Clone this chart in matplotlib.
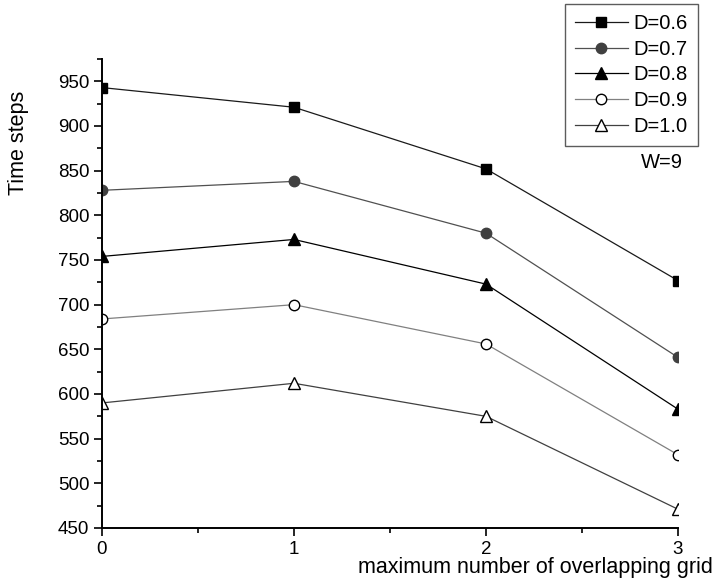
import matplotlib
matplotlib.use("Agg")
import matplotlib.pyplot as plt
from matplotlib.ticker import MultipleLocator

plt.rcParams['font.family'] = ['Liberation Sans', 'DejaVu Sans']

x_vals = [0, 1, 2, 3]
labels = ["D=0.6", "D=0.7", "D=0.8", "D=0.9", "D=1.0"]
d06 = [943, 921, 852, 727]
d07 = [828, 838, 780, 641]
d08 = [754, 773, 723, 583]
d09 = [684, 700, 656, 532]
d10 = [590, 612, 575, 471]
series = [d06, d07, d08, d09, d10]

markers = ['s', 'o', '^', 'o', '^']
line_colors = ['#1a1a1a', '#505050', '#000000', '#808080', '#404040']
face_colors = ['#000000', '#404040', '#000000', 'white', 'white']
edge_colors = ['#000000', '#404040', '#000000', '#000000', '#000000']
msizes = [7, 7.5, 8.5, 7.5, 8.5]

fig = plt.figure(figsize=(7.15, 5.88), dpi=100)
ax = fig.add_axes([102/715, 1-528/588, (678-102)/715, (528-59)/588])

handles = []
for s, lab, m, lc, fc, ec, ms in zip(series, labels, markers, line_colors, face_colors, edge_colors, msizes):
    h, = ax.plot(x_vals, s, marker=m, color=lc, markerfacecolor=fc,
                 markeredgecolor=ec, markersize=ms, linewidth=0.9,
                 markeredgewidth=1.0, label=lab)
    handles.append(h)

ax.set_xlim(0, 3)
ax.set_ylim(450, 975)
ax.xaxis.set_major_locator(MultipleLocator(1))
ax.xaxis.set_minor_locator(MultipleLocator(0.5))
ax.yaxis.set_minor_locator(MultipleLocator(25))
ax.set_yticks([450, 500, 550, 600, 650, 700, 750, 800, 850, 900, 950])

for side in ['top', 'right']:
    ax.spines[side].set_visible(False)
for side in ['left', 'bottom']:
    ax.spines[side].set_linewidth(1.4)

ax.tick_params(which='major', direction='out', length=6, width=1.2, labelsize=13.5, pad=3)
ax.tick_params(which='minor', direction='out', length=3.5, width=1.2)

fig.text(713/715, 1-567/588, "maximum number of overlapping grid", ha='right', va='center', fontsize=15.5)
fig.text(19/715, 1-143/588, "Time steps", ha='center', va='center', rotation=90, fontsize=15.5)
fig.text(662/715, 1-162/588, "W=9", ha='center', va='center', fontsize=14.5)

leg = fig.legend(handles=handles, loc='upper right', bbox_to_anchor=(698/715, 1-4/588),
                 bbox_transform=fig.transFigure, fontsize=14.5, frameon=True,
                 fancybox=False, handlelength=2.6, handletextpad=0.3,
                 labelspacing=0.33, borderpad=0.5, borderaxespad=0)
leg.get_frame().set_edgecolor('#333333')
leg.get_frame().set_linewidth(1.0)

fig.savefig("out.png", dpi=100)
